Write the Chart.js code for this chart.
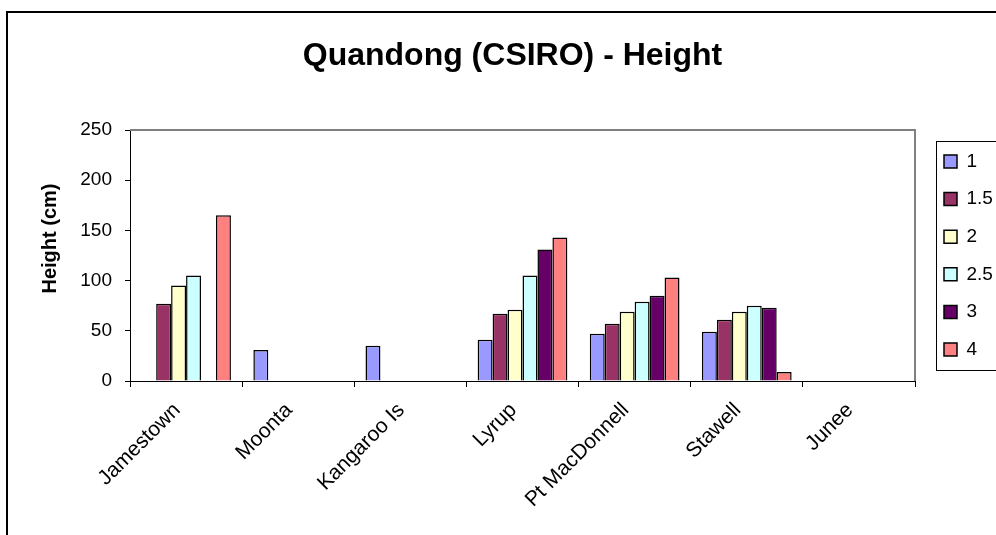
<!DOCTYPE html>
<html>
<head>
<meta charset="utf-8">
<script src="https://cdn.jsdelivr.net/npm/chart.js@4.4.1/dist/chart.umd.min.js"></script>
<style>
  html, body { margin: 0; padding: 0; background: #ffffff; }
  #wrap { width: 996px; height: 535px; position: relative; }
</style>
</head>
<body>
<div id="wrap"><canvas id="c" width="996" height="535"></canvas></div>
<script>
const categories = ['Jamestown', 'Moonta', 'Kangaroo Is', 'Lyrup', 'Pt MacDonnell', 'Stawell', 'Junee'];
const seriesNames = ['1', '1.5', '2', '2.5', '3', '4'];
const values1   = [null, 31, 35, 41, 47, 49, null];
const values1_5 = [77, null, null, 67, 57, 61, null];
const values2   = [95, null, null, 71, 69, 69, null];
const values2_5 = [105, null, null, 105, 79, 75, null];
const values3   = [null, null, null, 131, 85, 73, null];
const values4   = [165, null, null, 143, 103, 9, null];
const yTicks = [0, 50, 100, 150, 200, 250];
const chartTitle = 'Quandong (CSIRO) - Height';
const yTitle = 'Height (cm)';

const seriesValues = [values1, values1_5, values2, values2_5, values3, values4];
const seriesColors = ['#9999FF', '#993366', '#FFFFCC', '#CCFFFF', '#660066', '#FF8080'];

const FONT = "'Liberation Sans', Arial, sans-serif";

const framePlugin = {
  id: 'frame',
  beforeDraw(chart) {
    const ctx = chart.ctx;
    ctx.save();
    ctx.fillStyle = '#ffffff';
    ctx.fillRect(0, 0, chart.width, chart.height);
    ctx.strokeStyle = '#000000';
    ctx.lineWidth = 2;
    ctx.beginPath();
    ctx.moveTo(7, chart.height + 2);
    ctx.lineTo(7, 12);
    ctx.lineTo(chart.width + 2, 12);
    ctx.stroke();
    ctx.restore();
  },
  beforeDatasetsDraw(chart) {
    const a = chart.chartArea;
    const ctx = chart.ctx;
    ctx.save();
    ctx.strokeStyle = '#808080';
    ctx.lineWidth = 2;
    ctx.beginPath();
    ctx.moveTo(a.left, a.top);
    ctx.lineTo(a.right, a.top);
    ctx.lineTo(a.right, a.bottom);
    ctx.stroke();
    ctx.restore();
  },
  afterLayout(chart) {
    const lg = chart.legend;
    if (lg) {
      const pad = lg.options.labels.padding;
      lg.left = 944 - pad;
      lg.right = 1100;
      lg.top = 152 - pad;
      lg.bottom = lg.top + 300;
    }
    const tb = chart.titleBlock;
    if (tb) {
      tb.left = 0;
      tb.right = 1025;
    }
    const ys = chart.scales.y;
    if (ys && !ys._titleShifted) {
      const orig = ys.drawTitle.bind(ys);
      ys.drawTitle = function () {
        const t = this.top, b = this.bottom;
        this.top = t - 17; this.bottom = b - 17;
        orig();
        this.top = t; this.bottom = b;
      };
      ys._titleShifted = true;
    }
  },
  afterDraw(chart) {
    const ctx = chart.ctx;
    ctx.save();
    ctx.strokeStyle = '#000000';
    ctx.lineWidth = 1;
    ctx.strokeRect(936.5, 141.5, 80, 229);
    ctx.restore();
  }
};

new Chart(document.getElementById('c'), {
  type: 'bar',
  data: {
    labels: categories,
    datasets: seriesNames.map((name, i) => ({
      label: name,
      data: seriesValues[i],
      backgroundColor: seriesColors[i],
      borderColor: '#000000',
      borderWidth: 1.5,
      categoryPercentage: 0.8,
      barPercentage: 1.0
    }))
  },
  options: {
    responsive: false,
    animation: false,
    layout: { padding: { left: 0, right: 81, top: 0, bottom: 0 } },
    plugins: {
      title: {
        display: true,
        text: chartTitle,
        color: '#000000',
        font: { family: FONT, size: 32, weight: 'bold' },
        padding: { top: 37, bottom: 130 - 37 - 38.4 }
      },
      legend: {
        display: true,
        position: 'chartArea',
        align: 'start',
        labels: {
          color: '#000000',
          font: { family: FONT, size: 19 },
          boxWidth: 13,
          boxHeight: 13,
          padding: 18.6
        }
      },
      tooltip: { enabled: false }
    },
    scales: {
      x: {
        grid: { display: true, drawOnChartArea: false, drawTicks: true, tickLength: 6, color: '#000000', offset: true },
        border: { display: true, color: '#000000', width: 1 },
        ticks: { color: '#000000', font: { family: FONT, size: 21 }, minRotation: 45, maxRotation: 45, padding: 11, labelOffset: -9, autoSkip: false },
        afterFit(scale) { scale.height = 535 - 381; }
      },
      y: {
        min: 0,
        max: 250,
        afterBuildTicks(scale) { scale.ticks = yTicks.map(v => ({ value: v })); },
        grid: { display: true, drawOnChartArea: false, drawTicks: true, tickLength: 5, color: '#000000' },
        border: { display: true, color: '#000000', width: 1 },
        ticks: { color: '#000000', font: { family: FONT, size: 19 }, padding: 13 },
        title: { display: true, text: yTitle, color: '#000000', font: { family: FONT, size: 20, weight: 'bold' }, padding: { top: 38, bottom: 0 } },
        afterFit(scale) { scale.width = 130; }
      }
    }
  },
  plugins: [framePlugin]
});
</script>
</body>
</html>
